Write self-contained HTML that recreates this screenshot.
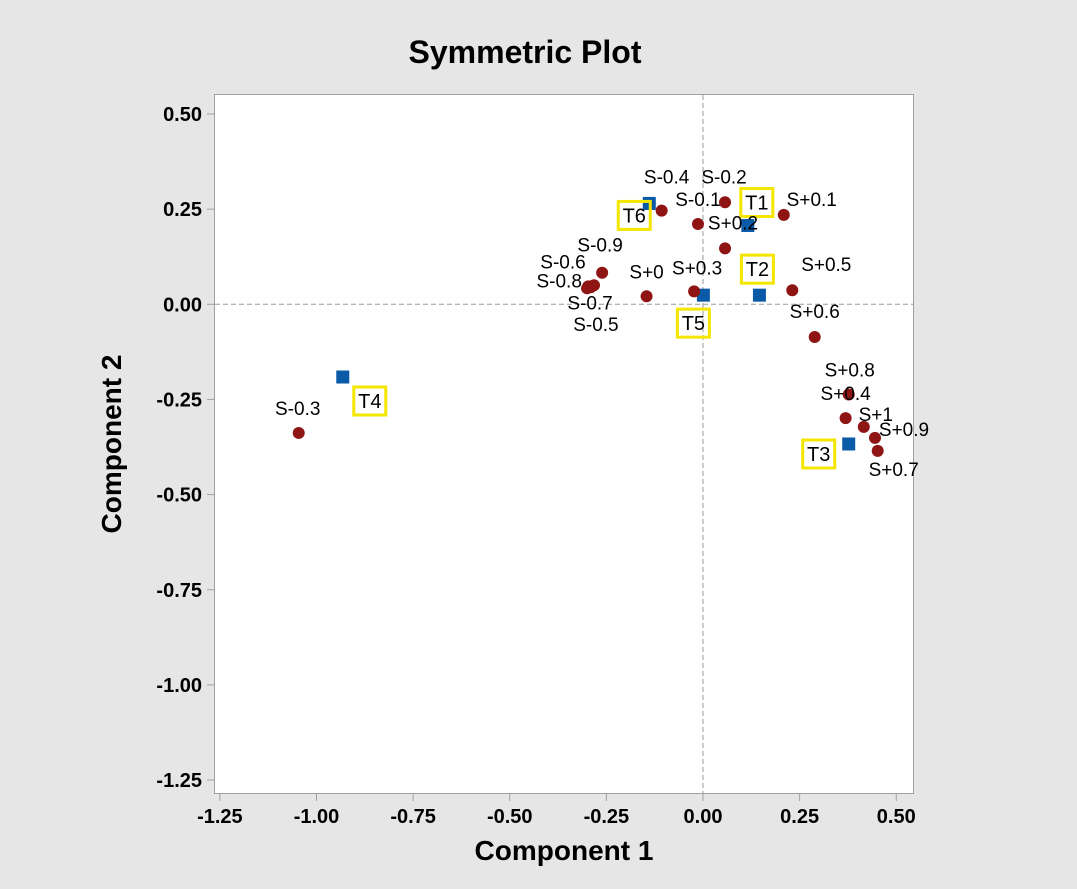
<!DOCTYPE html>
<html><head><meta charset="utf-8"><style>
body{margin:0;background:#e6e6e6;}
svg{display:block;font-family:"Liberation Sans","DejaVu Sans",sans-serif;}
</style></head><body>
<svg id="chart" width="1077" height="889" viewBox="0 0 1077 889">
<rect x="0" y="0" width="1077" height="889" fill="#e6e6e6"/>
<text x="525" y="63" text-anchor="middle" font-size="32" font-weight="bold" fill="#000">Symmetric Plot</text>
<rect x="214.5" y="94.5" width="699" height="699" fill="#fff" stroke="#a0a0a0" stroke-width="1"/>
<g id="axes"></g>
<g id="marks"></g>
<text x="564" y="860" text-anchor="middle" font-size="28" font-weight="bold">Component 1</text>
<text x="0" y="0" transform="translate(121,444) rotate(-90)" text-anchor="middle" font-size="28" font-weight="bold">Component 2</text>
</svg>
<script>
const xTicks=[-1.25,-1.00,-0.75,-0.50,-0.25,0.00,0.25,0.50];
const yTicks=[0.50,0.25,0.00,-0.25,-0.50,-0.75,-1.00,-1.25];
const rowLabels=["S-0.4","S-0.2","S-0.1","S+0.1","S+0.2","S-0.9","S-0.6","S-0.8","S-0.7","S-0.5","S+0","S+0.3","S+0.5","S+0.6","S+0.8","S+0.4","S+1","S+0.9","S+0.7","S-0.3"];
const rowX=[-0.107,0.057,-0.013,0.209,0.057,-0.261,-0.282,-0.297,-0.300,-0.290,-0.146,-0.023,0.231,0.289,0.377,0.369,0.416,0.445,0.452,-1.046];
const rowY=[0.246,0.268,0.211,0.235,0.147,0.083,0.050,0.047,0.042,0.045,0.021,0.034,0.037,-0.086,-0.237,-0.299,-0.322,-0.351,-0.385,-0.338];
const colLabels=["T6","T1","T5","T2","T3","T4"];
const colX=[-0.139,0.116,0.001,0.146,0.377,-0.932];
const colY=[0.265,0.207,0.024,0.024,-0.367,-0.191];
// label offsets (pixels, styling)
const rowOff=[[5,-34],[-1,-26],[0,-25],[28,-16],[8,-26],[-2,-28],[-31,-24],[-29,-6],[3,14],[5,37],[0,-25],[3,-24],[34,-26],[0,-26],[1,-25],[0,-25],[12,-13],[29,-9],[16,18],[-1,-25]];
const colOff=[[-15,12],[9,-23],[-10,28],[-2,-26],[-30,10],[27,24]];
const X=v=>703+386.5*v, Y=v=>304.3-380.6*v;
const NS="http://www.w3.org/2000/svg";
function mk(tag,attrs,parent){const e=document.createElementNS(NS,tag);for(const k in attrs)e.setAttribute(k,attrs[k]);parent.appendChild(e);return e;}
const axes=document.getElementById('axes'), marks=document.getElementById('marks');
xTicks.forEach(t=>{
  const l=mk('line',{x1:X(t),x2:X(t),y1:794,y2:801,stroke:'#a0a0a0'},axes);
  
  
  const tx=mk('text',{x:X(t),y:823,'text-anchor':'middle','font-size':20,'font-weight':'bold'},axes);
  tx.textContent=t.toFixed(2);
  
  
});
yTicks.forEach(t=>{
  const l=mk('line',{x1:207,x2:214,y1:Y(t),y2:Y(t),stroke:'#a0a0a0'},axes);
  
  
  const tx=mk('text',{x:202,y:Y(t)+7,'text-anchor':'end','font-size':20,'font-weight':'bold'},axes);
  tx.textContent=t.toFixed(2);
  
  
});
const vr=mk('line',{x1:X(0),x2:X(0),y1:95,y2:794,stroke:'#999','stroke-dasharray':'5,3'},axes);


const hr=mk('line',{x1:215,x2:913,y1:Y(0),y2:Y(0),stroke:'#999','stroke-dasharray':'5,3'},axes);


colLabels.forEach((n,i)=>{
  const cx=X(colX[i]), cy=Y(colY[i]);
  const s=mk('rect',{x:cx-6.5,y:cy-6.5,width:13,height:13,fill:'#0a5aa8'},marks);
  
  
  const bx=cx+colOff[i][0], by=cy+colOff[i][1];
  const b=mk('rect',{x:bx-16,y:by-14,width:32,height:28,fill:'none',stroke:'#f5e600','stroke-width':3},marks);
  
  
  const t=mk('text',{x:bx,y:by+7,'text-anchor':'middle','font-size':20},marks);
  t.textContent=n;
  
  
});
rowLabels.forEach((n,i)=>{
  const cx=X(rowX[i]), cy=Y(rowY[i]);
  const c=mk('circle',{cx:cx,cy:cy,r:6,fill:'#8f1414'},marks);
  
  
  const t=mk('text',{x:cx+rowOff[i][0],y:cy+rowOff[i][1]+7,'text-anchor':'middle','font-size':19},marks);
  t.textContent=n;
  
  
});
</script>
</body></html>
